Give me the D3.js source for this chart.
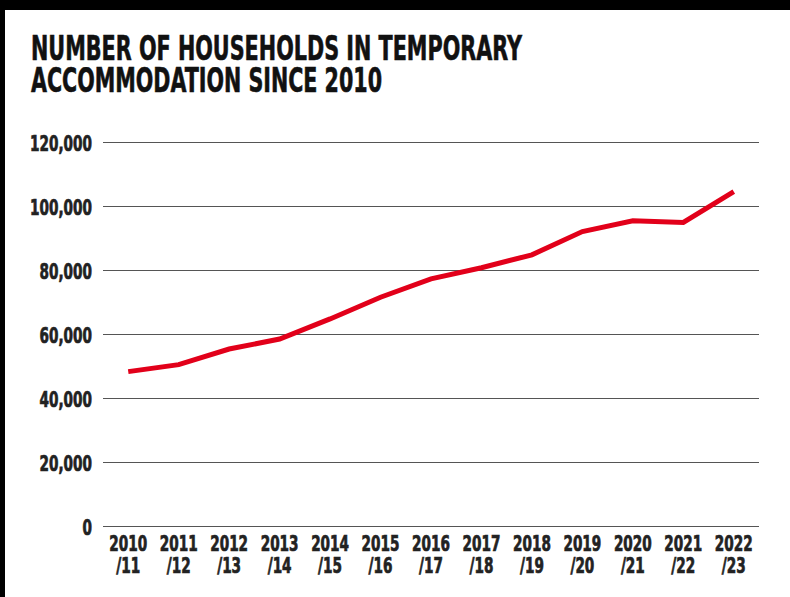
<!DOCTYPE html>
<html>
<head>
<meta charset="utf-8">
<script src="https://cdn.jsdelivr.net/npm/d3@7"></script>
<style>
  body { margin: 0; background: #000; }
  svg { display: block; }
</style>
</head>
<body>
<svg width="790" height="597"></svg>
<script>
const years = ["2010/11", "2011/12", "2012/13", "2013/14", "2014/15", "2015/16", "2016/17",
  "2017/18", "2018/19", "2019/20", "2020/21", "2021/22", "2022/23"];
const households = [48240, 50430, 55300, 58440, 64710, 71500, 77240,
  80720, 84740, 92000, 95370, 94870, 104510];
const yTicks = [0, 20000, 40000, 60000, 80000, 100000, 120000];
const titleLines = ["NUMBER OF HOUSEHOLDS IN TEMPORARY", "ACCOMMODATION SINCE 2010"];

const font = "'DejaVu Sans Condensed', 'DejaVu Sans', sans-serif";
const squeeze = 0.72;
const svg = d3.select("svg");
const width = +svg.attr("width");
const height = +svg.attr("height");

// squash a text horizontally, like the condensed face of the original
function condense(sel) {
  sel.each(function () {
    const w = this.getComputedTextLength();
    d3.select(this).attr("textLength", w * squeeze).attr("lengthAdjust", "spacingAndGlyphs");
  });
}

svg.append("rect").attr("width", width).attr("height", height).attr("fill", "#000");
svg.append("rect").attr("x", 5).attr("y", 10).attr("width", width - 5).attr("height", height - 10).attr("fill", "#fff");

// title
const titleWidths = [491, 351];
svg.append("text")
  .attr("font-family", font)
  .attr("font-weight", "bold")
  .attr("font-size", 34)
  .attr("fill", "#111")
  .attr("stroke", "#111")
  .attr("stroke-width", 0.6)
  .selectAll("tspan")
  .data(titleLines)
  .join("tspan")
  .attr("x", 31)
  .attr("y", (d, i) => 60 + i * 32)
  .attr("textLength", (d, i) => titleWidths[i])
  .attr("lengthAdjust", "spacingAndGlyphs")
  .text(d => d);

const margin = { left: 103, right: 31, top: 142, bottom: 71 };

const x = d3.scalePoint()
  .domain(years)
  .range([margin.left, width - margin.right])
  .padding(0.5);

const y = d3.scaleLinear()
  .domain([0, 120000])
  .range([height - margin.bottom, margin.top]);

// gridlines
svg.append("g")
  .selectAll("line")
  .data(yTicks)
  .join("line")
  .attr("x1", margin.left)
  .attr("x2", width - margin.right)
  .attr("y1", d => Math.round(y(d)) + 0.5)
  .attr("y2", d => Math.round(y(d)) + 0.5)
  .attr("stroke", "#555")
  .attr("stroke-width", 1);

// y labels
svg.append("g")
  .attr("font-family", font)
  .attr("font-weight", "bold")
  .attr("font-size", 21)
  .attr("fill", "#222")
  .attr("stroke", "#222")
  .attr("stroke-width", 0.7)
  .attr("text-anchor", "end")
  .selectAll("text")
  .data(yTicks)
  .join("text")
  .attr("x", 92)
  .attr("y", d => y(d))
  .attr("dy", "0.45em")
  .text(d => d3.format(",")(d))
  .call(condense);

// x labels
const xg = svg.append("g")
  .attr("font-family", font)
  .attr("font-weight", "bold")
  .attr("font-size", 21)
  .attr("fill", "#222")
  .attr("stroke", "#222")
  .attr("stroke-width", 0.7)
  .attr("text-anchor", "middle");
xg.selectAll("text.top")
  .data(years)
  .join("text")
  .attr("class", "top")
  .attr("x", d => x(d))
  .attr("y", 551)
  .text(d => d.split("/")[0])
  .call(condense);
xg.selectAll("text.bot")
  .data(years)
  .join("text")
  .attr("class", "bot")
  .attr("x", d => x(d))
  .attr("y", 573)
  .text(d => "/" + d.split("/")[1])
  .call(condense);

// line
const line = d3.line()
  .x((d, i) => x(years[i]))
  .y(d => y(d));

svg.append("path")
  .datum(households)
  .attr("fill", "none")
  .attr("stroke", "#e2001a")
  .attr("stroke-width", 5)
  .attr("d", line);
</script>
</body>
</html>
